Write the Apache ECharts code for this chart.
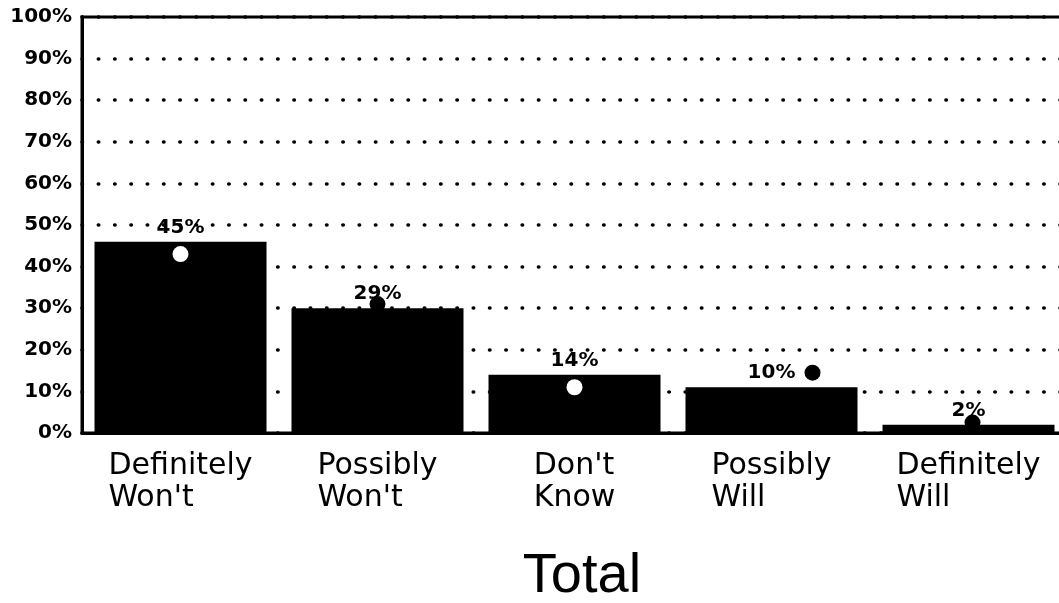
<!DOCTYPE html>
<html>
<head>
<meta charset="utf-8">
<script src="https://cdn.jsdelivr.net/npm/echarts@6/dist/echarts.min.js"></script>
<style>
  html, body { margin: 0; padding: 0; background: #fff; }
  #chart { width: 1059px; height: 603px; }
</style>
</head>
<body>
<div id="chart"></div>
<script>
// categories along the x axis
const categories = ["Definitely\nWon't", "Possibly\nWon't", "Don't\nKnow", 'Possibly\nWill', 'Definitely\nWill'];
// bar heights as drawn (%), and the printed labels
const barValues = [46, 30, 14, 11, 2];
const barLabels = ['45%', '29%', '14%', '10%', '2%'];
// dot markers (%)
const dotValues = [43, 31, 11, 14.5, 2.5];
const yTicks = [0, 10, 20, 30, 40, 50, 60, 70, 80, 90, 100];

// marker styling
const dotColors = ['#fff', '#000', '#fff', '#000', '#000'];
const dotShift = [0, 0, 0, 41, 4];

const chart = echarts.init(document.getElementById('chart'));

const option = {
    backgroundColor: '#fff',
    animation: false,
    title: {
        text: 'Total',
        left: 577,
        top: 544,
        textAlign: 'center',
        textStyle: {
            fontFamily: 'Liberation Sans',
            fontSize: 56,
            fontWeight: 'normal',
            color: '#000'
        }
    },
    grid: {
        left: 82,
        top: 17,
        width: 985,
        bottom: 170,
        outerBoundsMode: 'none',
        containLabel: false,
        show: true,
        borderColor: '#000',
        borderWidth: 3,
        backgroundColor: 'transparent'
    },
    xAxis: {
        type: 'category',
        data: categories,
        axisTick: { show: false },
        axisLine: { lineStyle: { color: '#000', width: 3 } },
        axisLabel: {
            margin: 17,
            color: '#000',
            formatter: function (v) {
                return v.split('\n').map(function (s) { return '{a|' + s + '}'; }).join('\n');
            },
            rich: {
                a: {
                    align: 'left',
                    fontFamily: 'DejaVu Sans',
                    fontSize: 30,
                    lineHeight: 32,
                    color: '#000'
                }
            }
        }
    },
    yAxis: {
        type: 'value',
        min: yTicks[0],
        max: yTicks[yTicks.length - 1],
        interval: 10,
        axisTick: { show: false },
        axisLine: { show: true, lineStyle: { color: '#000', width: 3 } },
        axisLabel: {
            formatter: '{value}%',
            margin: 10,
            color: '#000',
            fontFamily: 'DejaVu Sans',
            fontWeight: 'bold',
            fontSize: 20
        },
        splitLine: {
            show: true,
            lineStyle: {
                color: '#000',
                width: 3.5,
                type: [0.5, 15.8],
                cap: 'round'
            }
        }
    },
    series: [
        {
            type: 'bar',
            data: barValues,
            barWidth: 172,
            itemStyle: { color: '#000' },
            label: {
                show: true,
                position: 'top',
                distance: 4,
                formatter: function (p) { return barLabels[p.dataIndex]; },
                fontFamily: 'DejaVu Sans',
                fontWeight: 'bold',
                fontSize: 20,
                color: '#000'
            },
            z: 2
        },
        {
            type: 'scatter',
            data: dotValues.map(function (v, i) {
                return {
                    value: v,
                    symbolOffset: [dotShift[i], 0],
                    itemStyle: { color: dotColors[i], opacity: 1 }
                };
            }),
            symbol: 'circle',
            symbolSize: 16,
            itemStyle: { opacity: 1 },
            z: 3
        }
    ]
};

chart.setOption(option);
</script>
</body>
</html>
